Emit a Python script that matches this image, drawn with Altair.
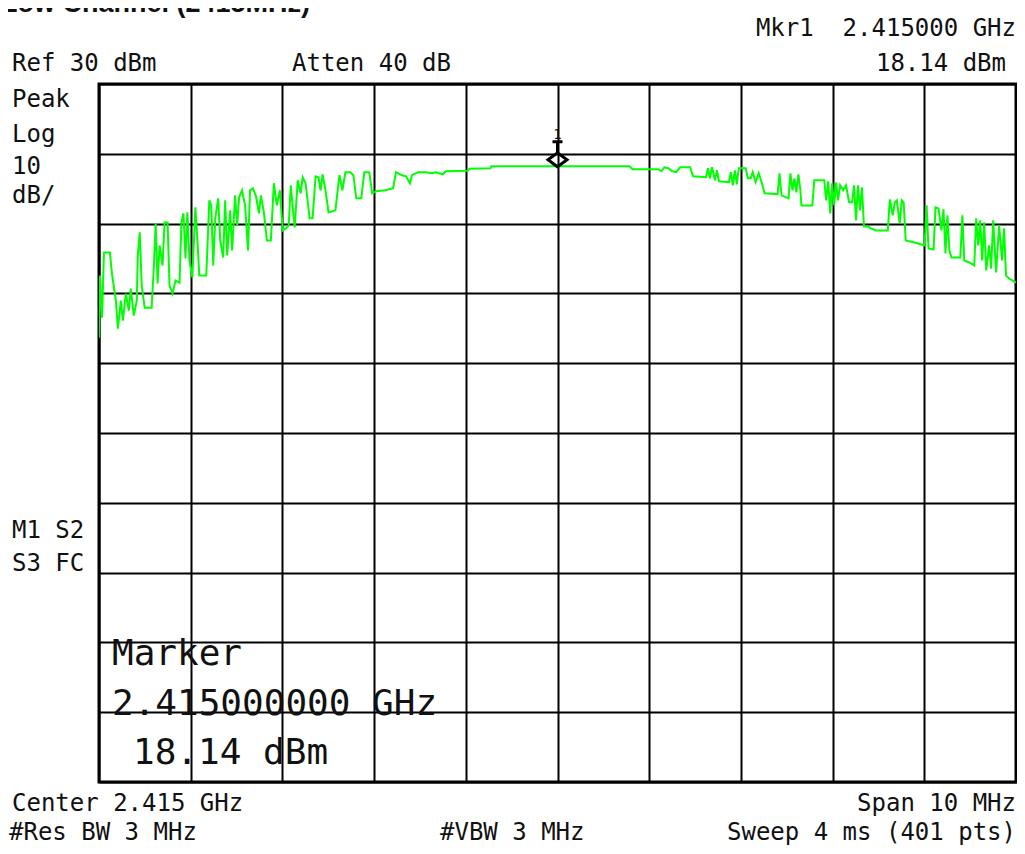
import altair as alt
import pandas as pd

# ---------------- data ----------------
freq_mhz = [
    2410.000, 2410.011, 2410.033, 2410.054, 2410.119, 2410.141, 2410.184, 2410.206, 2410.238, 2410.260,
    2410.293, 2410.325, 2410.347, 2410.379, 2410.412, 2410.423, 2410.444, 2410.466, 2410.498, 2410.574,
    2410.596, 2410.618, 2410.639, 2410.661, 2410.693, 2410.715, 2410.748, 2410.769, 2410.802, 2410.834,
    2410.878, 2410.899, 2410.921, 2410.943, 2410.964, 2410.986, 2411.018, 2411.051, 2411.073, 2411.094,
    2411.170, 2411.203, 2411.224, 2411.246, 2411.268, 2411.300, 2411.322, 2411.354, 2411.376, 2411.398,
    2411.430, 2411.452, 2411.484, 2411.506, 2411.528, 2411.560, 2411.593, 2411.625, 2411.647, 2411.679,
    2411.712, 2411.744, 2411.766, 2411.798, 2411.831, 2411.874, 2411.907, 2411.939, 2411.972, 2412.004,
    2412.037, 2412.069, 2412.091, 2412.113, 2412.134, 2412.167, 2412.199, 2412.221, 2412.253, 2412.297,
    2412.329, 2412.362, 2412.394, 2412.416, 2412.438, 2412.470, 2412.503, 2412.578, 2412.622, 2412.654,
    2412.687, 2412.741, 2412.774, 2412.806, 2412.860, 2412.893, 2412.947, 2412.979, 2413.023, 2413.120,
    2413.207, 2413.239, 2413.304, 2413.348, 2413.391, 2413.413, 2413.478, 2413.564, 2413.629, 2413.673,
    2413.749, 2413.781, 2414.019, 2414.041, 2414.269, 2414.279, 2415.785, 2415.818, 2416.024, 2416.100,
    2416.132, 2416.165, 2416.208, 2416.251, 2416.295, 2416.338, 2416.446, 2416.479, 2416.620, 2416.641,
    2416.663, 2416.685, 2416.717, 2416.739, 2416.760, 2416.869, 2416.890, 2416.912, 2416.934, 2416.955,
    2416.977, 2417.053, 2417.075, 2417.107, 2417.129, 2417.161, 2417.194, 2417.226, 2417.259, 2417.400,
    2417.421, 2417.443, 2417.519, 2417.540, 2417.562, 2417.584, 2417.605, 2417.627, 2417.649, 2417.660,
    2417.779, 2417.800, 2417.909, 2417.930, 2417.952, 2417.974, 2417.995, 2418.017, 2418.039, 2418.060,
    2418.082, 2418.115, 2418.147, 2418.180, 2418.212, 2418.234, 2418.255, 2418.277, 2418.299, 2418.320,
    2418.342, 2418.386, 2418.418, 2418.472, 2418.602, 2418.624, 2418.656, 2418.678, 2418.700, 2418.732,
    2418.754, 2418.775, 2418.797, 2418.895, 2419.003, 2419.025, 2419.046, 2419.101, 2419.122, 2419.155,
    2419.187, 2419.209, 2419.231, 2419.252, 2419.274, 2419.296, 2419.393, 2419.415, 2419.436, 2419.491,
    2419.545, 2419.566, 2419.588, 2419.610, 2419.631, 2419.653, 2419.675, 2419.707, 2419.729, 2419.751,
    2419.783, 2419.816, 2419.848, 2419.870, 2419.891, 2419.924, 2419.967, 2420.000,
]
level_dbm = [
    -6.35, 2.56, -3.48, 5.86, 5.86, 2.84, -1.03, -5.06, -1.03, -3.91,
    -0.03, -2.47, 0.69, -3.19, -1.03, 5.43, 8.74, 1.12, -2.04, -2.04,
    3.28, 10.03, 1.41, 6.87, 4.00, 10.17, 10.17, 1.12, -0.03, 1.84,
    1.55, 10.17, 11.47, 5.00, 11.61, 4.71, 2.27, 12.33, 7.59, 2.56,
    2.56, 13.33, 12.61, 4.00, 10.75, 13.62, 7.59, 5.14, 13.33, 5.43,
    11.90, 6.15, 14.05, 9.74, 13.76, 14.77, 12.61, 6.15, 14.77, 15.06,
    13.91, 11.47, 14.05, 11.61, 7.59, 7.59, 15.78, 12.61, 14.77, 9.02,
    9.31, 9.74, 15.49, 12.33, 9.45, 16.21, 14.34, 16.64, 15.78, 10.75,
    10.75, 16.78, 16.64, 14.77, 17.07, 14.77, 11.61, 11.90, 16.93, 14.77,
    17.36, 17.36, 16.93, 13.62, 13.62, 17.36, 17.36, 14.34, 14.63, 14.77,
    15.06, 17.36, 16.93, 16.78, 15.78, 16.93, 17.36, 17.36, 17.21, 17.36,
    17.07, 17.50, 17.57, 17.86, 17.93, 18.22, 18.22, 17.79, 17.79, 17.79,
    17.50, 18.07, 17.93, 17.50, 17.36, 18.07, 18.07, 16.78, 16.64, 17.93,
    16.49, 18.07, 16.21, 17.64, 16.06, 15.92, 17.36, 15.49, 17.64, 15.63,
    17.93, 17.93, 16.49, 16.49, 17.36, 15.92, 17.21, 15.92, 14.34, 14.20,
    17.21, 14.05, 13.62, 17.21, 14.77, 16.49, 14.48, 17.07, 14.77, 12.61,
    12.61, 16.21, 16.21, 13.33, 16.06, 11.47, 15.78, 12.61, 15.92, 13.33,
    15.49, 14.77, 15.49, 13.05, 13.05, 15.49, 10.46, 15.49, 11.90, 15.20,
    9.60, 9.60, 9.31, 9.02, 9.02, 13.48, 11.18, 13.05, 13.33, 10.03,
    13.33, 13.05, 7.59, 7.30, 6.87, 12.61, 6.44, 6.29, 12.33, 12.18,
    9.02, 12.04, 5.72, 11.18, 6.15, 5.14, 5.14, 11.18, 4.71, 4.43,
    4.00, 10.75, 6.87, 10.46, 4.71, 10.17, 3.28, 6.87, 3.56, 10.46,
    2.99, 9.74, 4.71, 9.31, 2.56, 2.13, 1.84, 1.55,
]
marker_freq = [2415.0]
marker_level = [18.14]
x_grid = [2410, 2411, 2412, 2413, 2414, 2415, 2416, 2417, 2418, 2419, 2420]
y_grid = [30, 20, 10, 0, -10, -20, -30, -40, -50, -60, -70]

NB = "\u00a0"
title_text = "Low Channel (2415MHz)"
header_texts = ["Ref 30 dBm", "Atten 40 dB", "Mkr1" + NB + NB + "2.415000 GHz", "18.14 dBm"]
side_texts = ["Peak", "Log", "10", "dB/", "M1 S2", "S3 FC"]
marker_texts = ["Marker", "2.415000000 GHz", "18.14 dBm"]
footer_texts = ["Center 2.415 GHz", "Span 10 MHz", "#Res BW 3 MHz", "#VBW 3 MHz", "Sweep 4 ms (401 pts)"]

# ---------------- chart ----------------
trace = pd.DataFrame({"freq": freq_mhz, "level": level_dbm})
mk = pd.DataFrame({"freq": marker_freq, "level": marker_level})
one = pd.DataFrame({"a": [0]})

W, H = 917, 698
TOTAL_W, TOTAL_H = 1009, 838
MONO = "DejaVu Sans Mono"
INK = "#111111"
FS = 24

xs = alt.Scale(domain=[2410, 2420], nice=False, zero=False)
ys = alt.Scale(domain=[-70, 30], nice=False, zero=False)

line = alt.Chart(trace).mark_line(color="#00ff00", strokeWidth=2, clip=True).encode(
    x=alt.X("freq:Q", scale=xs,
            axis=alt.Axis(values=x_grid, labels=False, ticks=False, domain=False, title=None,
                          grid=True, gridColor="black", gridWidth=2, gridOpacity=1)),
    y=alt.Y("level:Q", scale=ys,
            axis=alt.Axis(values=y_grid, labels=False, ticks=False, domain=False, title=None,
                          grid=True, gridColor="black", gridWidth=2, gridOpacity=1)),
)

marker_shape = "M0,0 L0.95,-0.7 L0,-1.4 L-0.95,-0.7 Z M0,-1.4 L0,-2.5 M-0.5,-2.5 L0.5,-2.5"
marker = alt.Chart(mk).mark_point(shape=marker_shape, size=400, filled=False, stroke="black",
                                  strokeWidth=3, opacity=1).encode(
    x=alt.X("freq:Q", scale=xs), y=alt.Y("level:Q", scale=ys))
marker_num = alt.Chart(mk).mark_text(text="1", font=MONO, fontSize=14, dy=-32, color=INK,
                                     baseline="middle", align="center").encode(
    x=alt.X("freq:Q", scale=xs), y=alt.Y("level:Q", scale=ys))


def label(text, x, y, align="left", size=FS, font=MONO, weight="normal", baseline="middle"):
    return alt.Chart(one).mark_text(
        x=x, y=y, align=align, baseline=baseline, fontSize=size, font=font,
        fontWeight=weight, color=INK,
    ).encode(text=alt.value(text))


# svg origin = page (8, 8); plot area origin at page (99, 84)
OX, OY = 91, 76
def px(page_x):
    return page_x - 8 - OX
def py(page_y):
    return page_y - 8 - OY + 2   # +2: caps sit a bit above the em-box middle

RIGHT = 1016
labels = [
    label(title_text, px(310), py(10), align="right", size=27, font="Liberation Sans",
          weight="bold", baseline="alphabetic"),
    label(header_texts[0], px(12), py(62)),
    label(header_texts[1], px(292), py(62)),
    label(header_texts[2], px(RIGHT), py(27), align="right"),
    label(header_texts[3], px(RIGHT - 10), py(62), align="right"),
    label(side_texts[0], px(12), py(98)),
    label(side_texts[1], px(12), py(133)),
    label(side_texts[2], px(12), py(165)),
    label(side_texts[3], px(12), py(194)),
    label(side_texts[4], px(12), py(529)),
    label(side_texts[5], px(12), py(562)),
    label(marker_texts[0], px(112), py(652), size=36),
    label(marker_texts[1], px(112), py(702), size=36),
    label(marker_texts[2], px(133), py(751), size=36),
    label(footer_texts[0], px(12), py(802)),
    label(footer_texts[1], px(RIGHT), py(802), align="right"),
    label(footer_texts[2], px(9), py(831)),
    label(footer_texts[3], px(440), py(831)),
    label(footer_texts[4], px(RIGHT), py(831), align="right"),
]

chart = alt.layer(line, marker, marker_num, *labels).properties(
    width=W, height=H,
    padding={"left": OX, "top": OY, "right": TOTAL_W - OX - W, "bottom": TOTAL_H - OY - H},
    autosize=alt.AutoSizeParams(type="none"),
    background="white",
).configure_view(stroke="black", strokeWidth=3)

chart.save("out.html", embed_options={"renderer": "svg", "actions": False})
